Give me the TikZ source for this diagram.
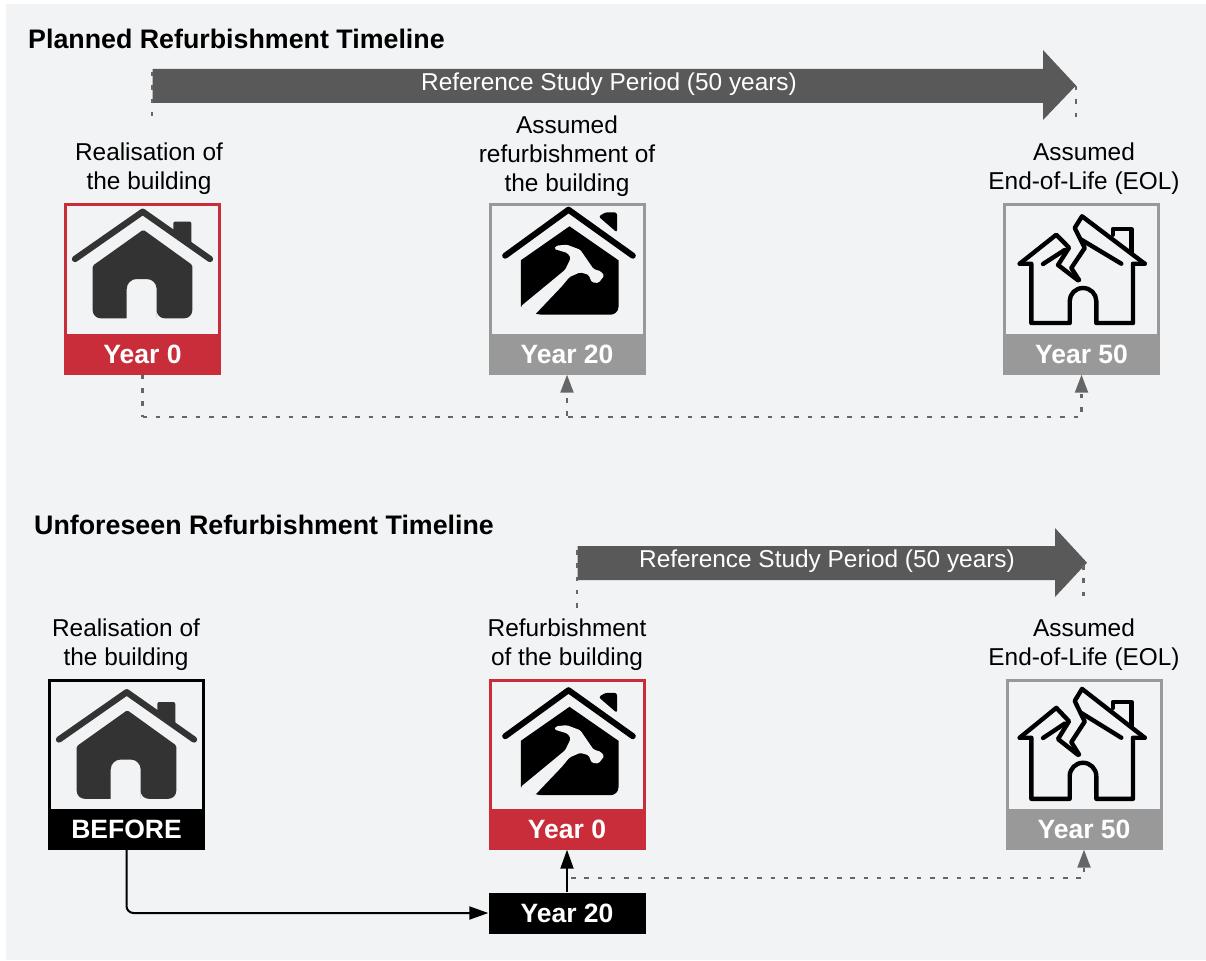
\documentclass[tikz,border=0pt]{standalone}
\usepackage{fontspec}
\setmainfont{Liberation Sans}
\usetikzlibrary{arrows.meta,calc}
\definecolor{bg}{HTML}{F2F3F5}
\definecolor{redc}{HTML}{C92D39}
\definecolor{greyc}{HTML}{999999}
\definecolor{arrowc}{HTML}{595959}
\definecolor{dotc}{HTML}{666666}
\definecolor{iconc}{HTML}{333333}
\tikzset{
  x=1pt,y=-1pt,
  lbl/.style={align=center,font=\fontsize{24.4}{29}\selectfont,text=black,inner sep=0pt},
  ttl/.style={anchor=west,font=\fontsize{26.8}{30}\bfseries\selectfont,inner sep=0pt},
  reflbl/.style={text=white,font=\fontsize{24.4}{28}\selectfont,inner sep=0pt},
  frame/.style={draw=#1,line width=3pt,fill=bg,minimum width=154pt,minimum height=168pt,inner sep=0pt,anchor=north},
  band/.style={fill=#1,minimum width=157pt,minimum height=41pt,inner sep=0pt,anchor=south,text=white,font=\fontsize{26.5}{30}\bfseries\selectfont},
  bigarrow/.style={fill=arrowc,draw=none},
  dotline/.style={draw=dotc,line width=2.2pt,dash pattern=on 4.5pt off 8.8pt},
  dotarrow/.style={dotline,-{Triangle[length=18pt,width=13pt,color=dotc]}},
  solidarrow/.style={draw=black,line width=2pt,-{Triangle[length=19pt,width=13pt]}},
  iconline/.style={line cap=round,line join=round},
}
% icons: origin = top-left of box, unit = px
\newcommand{\iconhouse}[2]{\begin{scope}[shift={(#1,#2)},x=1pt,y=-1pt]
  \draw[iconc,line width=6.3pt,iconline] (11,56) -- (78.7,8.7) -- (146,56);
  \fill[iconc,rounded corners=2pt] (109.3,30) -- (109.3,18.5) -- (127.3,18.5) -- (127.5,42) -- cycle;
  \fill[iconc] [rounded corners=1.5pt] (79.3,26.7) -- (128.3,62)
   [rounded corners=8pt] -- (128.3,115.3) -- (92.7,115.3) [sharp corners] -- (92.7,115.3)
   [rounded corners=10pt] -- (92.7,76) -- (62.7,76) [sharp corners] -- (62.7,115.3)
   [rounded corners=8pt] -- (28.7,115.3) [rounded corners=1.5pt] -- (28.7,62.7) -- cycle;
\end{scope}}
\newcommand{\iconhammer}[2]{\begin{scope}[shift={(#1,#2)},x=1pt,y=-1pt]
  \draw[black,line width=6pt,iconline] (16.7,52.7) -- (80,6.7) -- (144.3,52.7);
  \fill[black,rounded corners=2.5pt] (110,13.5) -- (117,9.3) -- (128.5,9.3) -- (128.5,29.5) -- cycle;
  \fill[black] (81,23.3) -- (130,57.3) [rounded corners=8pt] -- (130,111.7) -- (46,111.7) [sharp corners] -- (32.3,103.3) -- (32.3,57.3) -- cycle;
  \fill[bg,rounded corners=1.5pt] (32,103.6) -- (66.7,75) -- (76.7,66.7) -- (82.3,55) -- (79,50) -- (65.7,46) -- (67.7,42.7) -- (78.3,41.7) -- (91.7,46.7) -- (105,66) -- (112.3,68.3) -- (115.7,72.7) -- (110,80) -- (103.3,79.3) -- (100,71.7) -- (91.7,69.3) -- (81,74) -- (73.3,83.3) -- (46,112) -- cycle;
\end{scope}}
\newcommand{\iconbroken}[3]{\begin{scope}[shift={(#1,#2)},x=1pt,y=-1pt,yscale=#3]
  \begin{scope}[black,line width=4.4pt,iconline]
  \draw (16.7,60.7) -- (53.3,31.7) -- (66,44.7) -- (55,62) -- (75,77.3);
  \draw (76,77) -- (68.3,65) -- (81.7,45) -- (71.7,25) -- (79,13.3) -- (141.7,60.7);
  \draw (40,61) -- (61.7,47);
  \draw (78.3,36.7) -- (118.3,60.7);
  \draw (110,31.7) -- (110,26) -- (128.3,26) -- (128.3,50);
  \draw (16.7,60.7) -- (28.3,60.7) -- (28.3,120) -- (66.7,120) -- (66.7,98) arc[start angle=180,end angle=0,x radius=13.3,y radius=-13] -- (93.3,120) -- (130,120) -- (130,60.7) -- (141.7,60.7);
  \end{scope}
\end{scope}}
\begin{document}
\begin{tikzpicture}
\useasboundingbox (0,0) rectangle (1206,960);
\fill[white] (0,0) rectangle (1206,960);
\fill[bg] (6,4) rectangle (1206,960);

% Titles
\node[ttl] (t1) at (28,39) {Planned Refurbishment Timeline};
\node[ttl] (t2) at (34,525) {Unforeseen Refurbishment Timeline};

% Top timeline arrow
\coordinate (a1s) at (152,72);
\coordinate (a1e) at (1076,86);
\path[bigarrow] (152.5,69) -- (1043,69) -- (1043,50) -- (1076,85.5) -- (1043,120) -- (1043,103) -- (152.5,103) -- cycle;
\node[reflbl] (a1t) at (609,84) {Reference Study Period (50 years)};
\coordinate (a1d1) at (152,124);
\coordinate (a1d2) at (1076,124);
\draw[dotline] (a1s) -- (a1d1);
\draw[dotline] (a1e) -- (a1d2);

% Bottom timeline arrow
\coordinate (a2s) at (577,550);
\coordinate (a2e) at (1083.5,565);
\path[bigarrow] (577.5,546) -- (1055,546) -- (1055,528) -- (1087,562.7) -- (1055,597) -- (1055,580) -- (577.5,580) -- cycle;
\node[reflbl] (a2t) at (827,561) {Reference Study Period (50 years)};
\coordinate (a2d1) at (577,612);
\coordinate (a2d2) at (1083.5,598);
\draw[dotline] (a2s) -- (a2d1);
\draw[dotline] (a2e) -- (a2d2);

% Labels, top
\node[lbl] (l1) at (149,169) {Realisation of\\the building};
\node[lbl] (l2) at (567,156) {Assumed\\refurbishment of\\the building};
\node[lbl] (l3) at (1084,169) {Assumed\\End-of-Life (EOL)};

% Boxes, top
\node[frame=redc] (f1) at (142.5,203.3) {};
\node[band=redc] (y1) at (142.5,374.7) {Year 0};
\iconhouse{64}{203}
\node[frame=greyc] (f2) at (567,203.3) {};
\node[band=greyc] (y2) at (567,374.7) {Year 20};
\iconhammer{488.5}{203}
\node[frame=greyc] (f3) at (1081.5,203.3) {};
\node[band=greyc] (y3) at (1081.5,374.7) {Year 50};
\iconbroken{1003}{203}{1}

% Top dotted connectors
\coordinate (j1) at (142.5,417);
\draw[dotline] (y1.south) -- (j1);
\draw[dotarrow] (j1) -| (y2.south);
\draw[dotarrow] (j1) -| (y3.south);

% Labels, bottom
\node[lbl] (l4) at (126,645) {Realisation of\\the building};
\node[lbl] (l5) at (567,645) {Refurbishment\\of the building};
\node[lbl] (l6) at (1084,645) {Assumed\\End-of-Life (EOL)};

% Boxes, bottom
\node[frame=black] (f4) at (126.5,678.5) {};
\node[band=black] (y4) at (126.5,849.7) {BEFORE};
\iconhouse{48}{683.5}
\node[frame=redc] (f5) at (567,678.5) {};
\node[band=redc] (y5) at (567,849.7) {Year 0};
\iconhammer{488.5}{683.5}
\node[frame=greyc] (f6) at (1084,678.5) {};
\node[band=greyc] (y6) at (1084,849.7) {Year 50};
\iconbroken{1003}{675.2}{1.03}

\node[band=black,anchor=center] (y7) at (567,913) {Year 20};

% Bottom connectors
\coordinate (j2) at (571,878);
\draw[solidarrow,rounded corners=7pt] (y4.south) |- (y7.west);
\draw[solidarrow] (y7.north) -- (y5.south);
\draw[dotarrow] (j2) -| (y6.south);
\end{tikzpicture}
\end{document}
